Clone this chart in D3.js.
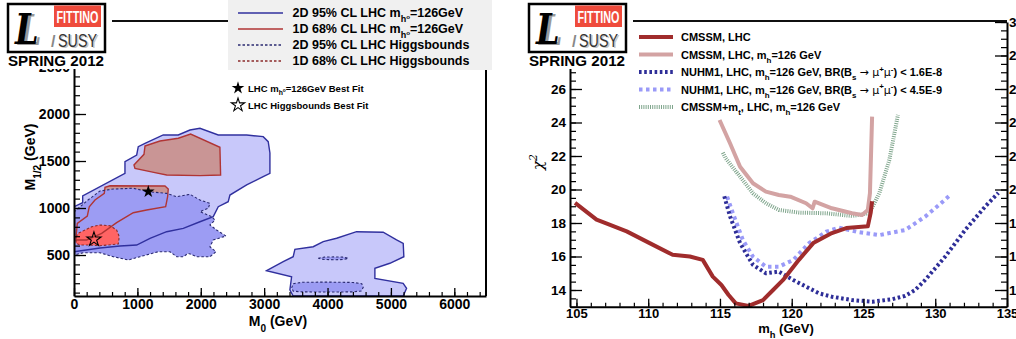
<!DOCTYPE html>
<html><head><meta charset="utf-8">
<script src="https://cdn.jsdelivr.net/npm/d3@7"></script>
<style>
body{margin:0;background:#fff;}
svg{display:block;}
</style>
</head><body>
<svg id="c" width="1016" height="339"></svg>
<script>
// ---------------- DATA ----------------
// Left panel: (M0, M1/2) contours in GeV
const mh2DMain = [[0,1014],[137,1056],[137,1128],[804,1369],[804,1493],[989,1564],[1014,1652],[1120,1688],[1408,1777],[1645,1777],[1829,1830],[1987,1848],[2276,1777],[2724,1777],[2985,1759],[3064,1706],[3091,1585],[3091,1369],[2985,1333],[2724,1245],[2460,1138],[2433,1067],[2276,1014],[2197,908],[1987,854],[1724,784],[1462,748],[1199,678],[989,606],[725,596],[410,574],[0,535]];
const mh2DTail = [[3039,333],[3301,429],[3458,482],[3485,561],[3774,588],[3932,642],[4143,678],[4458,748],[4878,742],[5089,660],[5194,624],[5204,482],[4983,412],[4747,358],[4747,252],[5193,199],[5247,146],[5193,64],[3458,64],[3406,128],[3433,269]];
const mh1DUpper = [[1120,1660],[1356,1713],[1645,1742],[1840,1787],[2302,1646],[2313,1351],[1987,1344],[1462,1351],[1277,1376],[962,1422],[946,1458],[1104,1571]];
const mh1DLower = [[32,695],[52,837],[210,915],[241,1014],[331,1085],[478,1156],[489,1220],[568,1237],[1435,1234],[1487,1202],[1477,1120],[1446,1014],[1146,979],[935,950],[673,844],[437,731],[200,660],[32,660]];
const hb2DMain = [[0,957],[221,1085],[410,1181],[620,1202],[935,1210],[1172,1174],[1462,1156],[1620,1120],[1829,1146],[1987,1085],[2145,1050],[2118,997],[1987,961],[2172,908],[2224,872],[2145,819],[2250,766],[2397,702],[2197,660],[2145,588],[2239,535],[2145,482],[1935,482],[1803,518],[1724,482],[1620,482],[1514,535],[1329,535],[1041,482],[856,447],[620,482],[410,524],[147,524],[0,500]];
const hb2DTail = [[3433,150],[3460,195],[3600,210],[4000,212],[4400,208],[4540,195],[4563,155],[4530,118],[4400,108],[4000,106],[3600,108],[3460,115]];
const hb2DSpeck = [[3853,465],[3950,478],[4100,480],[4250,478],[4326,465],[4250,452],[4100,450],[3950,452]];
const hb1D = [[32,695],[68,731],[279,801],[410,819],[568,812],[673,766],[714,695],[699,617],[410,599],[252,606],[95,606],[32,624]];
const bestFit126 = [1172,1174];
const bestFitHB = [315,667];

const m0Ticks = [0,1000,2000,3000,4000,5000,6000];
const m12Ticks = [500,1000,1500,2000,2500];

// Right panel: chi2 vs m_h
const mhCMSSM   = [104.9,106.4,107.3,108.5,110.1,111.7,112.9,113.8,114.5,115.1,115.6,116.1,117.0,118.0,118.7,119.4,120.5,121.5,122.8,123.8,125.3,125.5,125.6];
const chi2CMSSM = [19.2,18.2,17.9,17.5,16.8,16.1,16.0,15.8,14.8,14.3,13.7,13.2,13.05,13.4,14.0,14.6,15.8,16.8,17.4,17.7,17.8,18.6,19.3];
const mhCMSSM126   = [114.97,115.7,116.4,117.3,118.2,119.1,119.9,121.0,121.45,121.6,122.8,124.2,124.9,125.3,125.45,125.6];
const chi2CMSSM126 = [24.15,22.76,21.36,20.37,19.87,19.67,19.57,19.18,18.88,19.27,18.88,18.58,18.48,18.78,19.77,24.35];
const mhNUHM1a   = [115.3,115.7,116.4,117.3,118.2,119.1,120.1,121.0,121.9,122.8,124.2,125.6,127.0,127.9,128.6,129.3,130.0,130.7,132.1,133.5,134.4];
const chi2NUHM1a = [19.6,18.4,16.8,15.5,15.0,15.1,14.6,14.2,13.8,13.6,13.4,13.3,13.45,13.65,14.0,14.6,15.3,16.0,17.6,19.0,19.8];
const mhNUHM1b   = [115.5,115.9,116.6,117.3,118.2,119.1,120.1,121.2,122.4,123.3,124.5,126.1,127.9,129.3,130.25,131.05];
const chi2NUHM1b = [19.57,18.58,16.98,15.99,15.39,15.39,15.79,16.79,17.48,17.72,17.48,17.28,17.58,18.38,19.07,19.67];
const mhCMSSMmt   = [115.2,115.4,116.4,117.3,118.2,119.1,120.5,122.4,124.2,125.4,126.1,126.8,127.4];
const chi2CMSSMmt = [22.2,21.86,20.77,19.77,19.18,18.78,18.62,18.58,18.42,18.58,19.77,21.76,24.45];

const mhTicks = [105,110,115,120,125,130,135];
const chi2Ticks = [14,16,18,20,22,24,26,28,30];

// ---------------- DRAWING ----------------
const FONT = "'Liberation Sans', Arial, Helvetica, sans-serif";
const svg = d3.select("#c").attr("font-family", FONT);
const range = (a,b,s)=>d3.range(a, b+s/2, s);

function styleAxis(g, fs){
  g.attr("font-family", FONT).attr("font-size", fs).attr("font-weight","bold");
  g.selectAll(".tick line").attr("stroke","#000").attr("stroke-width",1.3);
  g.select(".domain").attr("stroke","#000").attr("stroke-width",2);
  g.selectAll("text").attr("fill","#000");
}
function minorAxis(parent, axis, transform){
  const g = parent.append("g").attr("transform", transform).call(axis);
  g.select(".domain").remove();
  g.selectAll(".tick line").attr("stroke","#000").attr("stroke-width",1.2);
  g.selectAll("text").remove();
}
function addParts(textSel, parts, fs){
  let cur = 0;
  parts.forEach(([str, kind])=>{
    let off = 0, size = fs;
    if(kind==='sub'){off = fs*0.4; size = fs*0.72;}
    if(kind==='sup'){off = -fs*0.4; size = fs*0.72;}
    if(kind==='subsup'){off = fs*0.1; size = fs*0.5;}
    const t = textSel.append("tspan").attr("dy", off-cur).attr("font-size", size).text(str);
    if(kind==='sym') t.attr("font-weight","normal").attr("font-family","'DejaVu Sans', sans-serif");
    cur = off;
  });
}
function drawLogo(x0){
  const g = svg.append("g").attr("transform",`translate(${x0},0)`);
  g.append("rect").attr("x",-8).attr("y",0).attr("width",112).attr("height",69).attr("fill","#fff");
  g.append("rect").attr("x",0).attr("y",4).attr("width",97).attr("height",48)
    .attr("fill","#fff").attr("stroke","#000").attr("stroke-width",2.5);
  g.append("rect").attr("x",46).attr("y",5.5).attr("width",47).attr("height",21.5).attr("fill","#ef4b3c");
  g.append("text").attr("x",48.5).attr("y",23).attr("fill","#fff").attr("font-size",16)
    .attr("font-weight","bold").attr("textLength",42).attr("lengthAdjust","spacingAndGlyphs").text("FITTINO");
  g.append("text").attr("transform","translate(10,45) scale(0.8,1)").attr("fill","#9a9a9a").attr("font-size",42)
    .attr("font-family","'DejaVu Serif', serif").attr("font-style","italic").attr("font-weight","bold").text("L");
  g.append("text").attr("transform","translate(7,44) scale(0.8,1)").attr("fill","#000").attr("font-size",42)
    .attr("font-family","'DejaVu Serif', serif").attr("font-style","italic").attr("font-weight","bold").text("L");
  g.append("text").attr("x",43).attr("y",47).attr("fill","#888").attr("font-size",16).attr("font-weight","bold").text("/");
  g.append("text").attr("x",51.5).attr("y",48).attr("fill","#c4c4c4").attr("font-size",18)
    .attr("textLength",39).attr("lengthAdjust","spacingAndGlyphs").text("SUSY");
  g.append("text").attr("x",50).attr("y",47).attr("fill","#333").attr("font-size",18)
    .attr("textLength",39).attr("lengthAdjust","spacingAndGlyphs").text("SUSY");
  g.append("text").attr("x",0).attr("y",66).attr("fill","#000").attr("font-size",14.5).attr("font-weight",900)
    .attr("textLength",96).attr("lengthAdjust","spacingAndGlyphs").text("SPRING 2012");
}

// ===== LEFT PANEL =====
const xL = d3.scaleLinear().domain([0,6500]).range([74,486]);
const yL = d3.scaleLinear().domain([64,3000]).range([296,20]);
const L = svg.append("g");
L.append("clipPath").attr("id","clipL").append("rect").attr("x",74).attr("y",20).attr("width",412).attr("height",276);
const area = L.append("g").attr("clip-path","url(#clipL)");
const poly = d3.line().x(d=>xL(d[0])).y(d=>yL(d[1]));
const closed = d => poly(d) + "Z";

const cLight="#c8c8fa", cMed="#9c9cf3", cRose="#c99595", cBright="#ff6464", cBlue="#30309e", cRed="#b03535";
[mh2DMain, mh2DTail].forEach(p=>area.append("path").attr("d",closed(p)).attr("fill",cLight));
[mh1DUpper, mh1DLower].forEach(p=>area.append("path").attr("d",closed(p)).attr("fill",cRose));
[hb2DMain, hb2DTail, hb2DSpeck].forEach(p=>area.append("path").attr("d",closed(p)).attr("fill",cMed));
area.append("path").attr("d",closed(hb1D)).attr("fill",cBright);
[mh2DMain, mh2DTail].forEach(p=>area.append("path").attr("d",closed(p)).attr("fill","none").attr("stroke",cBlue).attr("stroke-width",1.4));
[mh1DUpper, mh1DLower].forEach(p=>area.append("path").attr("d",closed(p)).attr("fill","none").attr("stroke",cRed).attr("stroke-width",1.4));
[hb2DMain, hb2DTail, hb2DSpeck].forEach(p=>area.append("path").attr("d",closed(p)).attr("fill","none").attr("stroke","#2a2a70").attr("stroke-width",1.1).attr("stroke-dasharray","2.5,2"));
area.append("path").attr("d",closed(hb1D)).attr("fill","none").attr("stroke","#8a2a2a").attr("stroke-width",1.1).attr("stroke-dasharray","2.5,2");

const star = d3.symbol().type(d3.symbolStar);
area.append("path").attr("d",star.size(50)()).attr("transform",`translate(${xL(bestFit126[0])},${yL(bestFit126[1])})`).attr("fill","#000");
area.append("path").attr("d",star.size(62)()).attr("transform",`translate(${xL(bestFitHB[0])},${yL(bestFitHB[1])})`).attr("fill","none").attr("stroke","#000").attr("stroke-width",1.1);

// frame
L.append("line").attr("x1",74).attr("x2",486).attr("y1",21).attr("y2",21).attr("stroke","#000").attr("stroke-width",1.5);
L.append("line").attr("x1",486).attr("x2",486).attr("y1",21).attr("y2",296).attr("stroke","#000").attr("stroke-width",2);
// axes
minorAxis(L, d3.axisBottom(xL).tickValues(range(0,6400,200)).tickSize(-4).tickFormat(""), "translate(0,296)");
minorAxis(L, d3.axisLeft(yL).tickValues(range(100,3000,100)).tickSize(-6).tickFormat(""), "translate(74,0)");
const gxL = L.append("g").attr("transform","translate(0,296)")
  .call(d3.axisBottom(xL).tickValues(m0Ticks).tickSize(-8).tickSizeOuter(0).tickPadding(3).tickFormat(d3.format("d")));
styleAxis(gxL, 14);
const gyL = L.append("g").attr("transform","translate(74,0)")
  .call(d3.axisLeft(yL).tickValues(m12Ticks).tickSize(-12).tickSizeOuter(0).tickPadding(4).tickFormat(d3.format("d")));
styleAxis(gyL, 14);
// titles
const tx = L.append("text").attr("x",278).attr("y",326).attr("text-anchor","middle").attr("font-size",14).attr("font-weight","bold");
addParts(tx, [["M"],["0","sub"],[" (GeV)"]], 14);
const ty = L.append("text").attr("transform","translate(35,157) rotate(-90)").attr("text-anchor","middle").attr("font-size",14).attr("font-weight","bold");
addParts(ty, [["M"],["1/2","sub"],[" (GeV)"]], 14);

// star legend
L.append("path").attr("d",star.size(50)()).attr("transform","translate(238,88)").attr("fill","#000");
L.append("path").attr("d",star.size(55)()).attr("transform","translate(238,105)").attr("fill","#fff").attr("stroke","#000").attr("stroke-width",1.1);
const s1 = L.append("text").attr("x",248).attr("y",91.5).attr("font-size",9.5).attr("font-weight","bold");
addParts(s1, [["LHC m"],["h","sub"],["o","subsup"],["=126GeV Best Fit"]], 9.5);
L.append("text").attr("x",248).attr("y",108.5).attr("font-size",9.5).attr("font-weight","bold").text("LHC Higgsbounds Best Fit");

// legend box
L.append("rect").attr("x",228).attr("y",-1).attr("width",264).attr("height",71).attr("fill","#f0f0f0");
const legL = [
  {parts:[["2D 95% CL LHC m"],["h","sub"],["o","subsup"],["=126GeV"]], stroke:cBlue, dash:null},
  {parts:[["1D 68% CL LHC m"],["h","sub"],["o","subsup"],["=126GeV"]], stroke:cRed, dash:null},
  {parts:[["2D 95% CL LHC Higgsbounds"]], stroke:"#2a2a70", dash:"2.5,2"},
  {parts:[["1D 68% CL LHC Higgsbounds"]], stroke:"#8a2a2a", dash:"2.5,2"}
];
legL.forEach((e,i)=>{
  const y = 13 + i*16;
  L.append("line").attr("x1",238).attr("x2",283).attr("y1",y).attr("y2",y).attr("stroke",e.stroke).attr("stroke-width",1.4).attr("stroke-dasharray",e.dash);
  const t = L.append("text").attr("x",292.5).attr("y",y+4.3).attr("font-size",12.5).attr("font-weight","bold");
  addParts(t, e.parts, 12.5);
});
drawLogo(8);
L.append("line").attr("x1",105).attr("x2",228).attr("y1",21).attr("y2",21).attr("stroke","#000").attr("stroke-width",1.5);

// ===== RIGHT PANEL =====
const xR = d3.scaleLinear().domain([104.55,135]).range([570,1007]);
const yR = d3.scaleLinear().domain([13,30]).range([306.75,22]);
const R = svg.append("g");
R.append("clipPath").attr("id","clipR").append("rect").attr("x",570).attr("y",22).attr("width",437).attr("height",285);
const ra = R.append("g").attr("clip-path","url(#clipR)");
const series = [
  {x:mhCMSSMmt, y:chi2CMSSMmt, stroke:"#7fa58c", w:4, dash:"1,1.2"},
  {x:mhNUHM1b, y:chi2NUHM1b, stroke:"#9a9af8", w:4, dash:"3.5,3.5"},
  {x:mhNUHM1a, y:chi2NUHM1a, stroke:"#2e2e98", w:4, dash:"2.6,2.6"},
  {x:mhCMSSM126, y:chi2CMSSM126, stroke:"#d3a3a3", w:4, dash:null},
  {x:mhCMSSM, y:chi2CMSSM, stroke:"#a02c2c", w:4, dash:null}
];
const ln = d3.line().x(d=>xR(d[0])).y(d=>yR(d[1]));
series.forEach(s=>{
  ra.append("path").attr("d", ln(s.x.map((v,i)=>[v,s.y[i]]))).attr("fill","none")
    .attr("stroke",s.stroke).attr("stroke-width",s.w).attr("stroke-dasharray",s.dash).attr("stroke-linejoin","round");
});
// frame
R.append("line").attr("x1",570).attr("x2",1007).attr("y1",21).attr("y2",21).attr("stroke","#000").attr("stroke-width",1.5);
minorAxis(R, d3.axisBottom(xR).tickValues(range(105,135,1)).tickSize(-4).tickFormat(""), "translate(0,306.75)");
minorAxis(R, d3.axisLeft(yR).tickValues(range(13,30,0.5)).tickSize(-6).tickFormat(""), "translate(570,0)");
minorAxis(R, d3.axisRight(yR).tickValues(range(13,30,0.5)).tickSize(-6).tickFormat(""), "translate(1007,0)");
const gxR = R.append("g").attr("transform","translate(0,306.75)")
  .call(d3.axisBottom(xR).tickValues(mhTicks).tickSize(-8).tickSizeOuter(0).tickPadding(2).tickFormat(d3.format("d")));
styleAxis(gxR, 13);
// labels 28 and 30 on the left axis are hidden behind the logo in the reference
const gyR = R.append("g").attr("transform","translate(570,0)")
  .call(d3.axisLeft(yR).tickValues(chi2Ticks).tickSize(-12).tickSizeOuter(0).tickPadding(4).tickFormat(d=> d<27 ? d3.format("d")(d) : ""));
styleAxis(gyR, 13.5);
const gyR2 = R.append("g").attr("transform","translate(1007,0)")
  .call(d3.axisRight(yR).tickValues(chi2Ticks).tickSize(-12).tickSizeOuter(0).tickPadding(2).tickFormat(d3.format("d")));
styleAxis(gyR2, 13.5);
const txR = R.append("text").attr("x",786).attr("y",333).attr("text-anchor","middle").attr("font-size",13).attr("font-weight","bold");
addParts(txR, [["m"],["h","sub"],[" (GeV)"]], 13);
const tyR = R.append("text").attr("transform","translate(543,162) rotate(-90)").attr("text-anchor","middle")
  .attr("font-size",15).attr("font-family","'DejaVu Serif', serif").attr("font-style","italic");
addParts(tyR, [["χ"],["2","sup"]], 15);

// legend
const legR = [
  {parts:[["CMSSM, LHC"]], s:series[4]},
  {parts:[["CMSSM, LHC, m"],["h","sub"],["=126 GeV"]], s:series[3]},
  {parts:[["NUHM1, LHC, m"],["h","sub"],["=126 GeV, BR(B"],["s","sub"],[" "],["\u2192 \u03bc","sym"],["+","sup"],["\u03bc","sym"],["-","sup"],[") < 1.6E-8"]], s:series[2]},
  {parts:[["NUHM1, LHC, m"],["h","sub"],["=126 GeV, BR(B"],["s","sub"],[" "],["\u2192 \u03bc","sym"],["+","sup"],["\u03bc","sym"],["-","sup"],[") < 4.5E-9"]], s:series[1]},
  {parts:[["CMSSM+m"],["t","sub"],[", LHC, m"],["h","sub"],["=126 GeV"]], s:series[0]}
];
legR.forEach((e,i)=>{
  const y = 37 + i*17.5;
  R.append("line").attr("x1",639).attr("x2",673).attr("y1",y).attr("y2",y).attr("stroke",e.s.stroke).attr("stroke-width",4).attr("stroke-dasharray",e.s.dash);
  const t = R.append("text").attr("x",681).attr("y",y+4).attr("font-size",11).attr("font-weight","bold");
  addParts(t, e.parts, 11);
});
drawLogo(529);
R.append("line").attr("x1",627).attr("x2",1007).attr("y1",21).attr("y2",21).attr("stroke","#000").attr("stroke-width",1.5);
</script>
</body></html>
